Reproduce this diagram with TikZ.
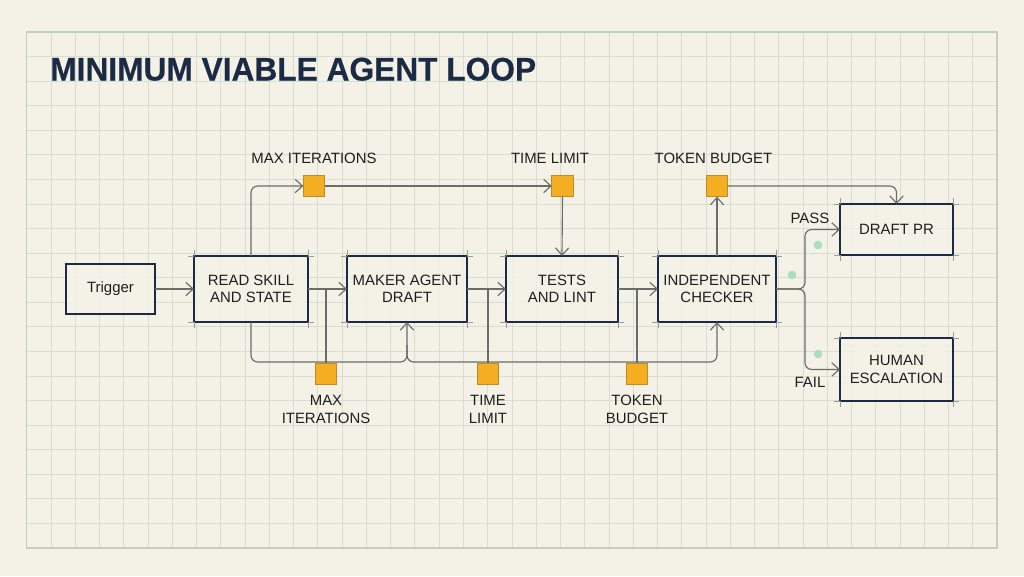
\documentclass[tikz,border=0pt]{standalone}
\usepackage{fontspec}
\setmainfont{Liberation Sans}
\newfontfamily\titlefont{Liberation Sans Bold}[FakeBold=0.5]
\usetikzlibrary{arrows.meta,calc}
\definecolor{cream}{HTML}{F4F2E7}
\definecolor{gridc}{HTML}{D8DDD1}
\definecolor{framec}{HTML}{C3CFC2}
\definecolor{navy}{HTML}{1C2B45}
\definecolor{ink}{HTML}{1E1E1E}
\definecolor{wire}{HTML}{6B6B6B}
\definecolor{org}{HTML}{F3AE22}
\definecolor{orgdark}{HTML}{C08A25}
\definecolor{mint}{HTML}{A9DEC3}
\definecolor{tickc}{HTML}{9A9A9A}
\newcommand\labfont{\fontsize{11.2}{13}\selectfont}
\tikzset{
  box/.style={draw=navy, line width=1.5pt, fill=cream, fill opacity=0.85, text opacity=1,
    align=center, font=\labfont, text=ink, inner sep=0pt, outer sep=0pt},
  gate/.style={draw=orgdark, line width=0.6pt, fill=org, minimum size=16pt, inner sep=0pt, outer sep=0pt},
  conn/.style={draw=wire, line width=0.85pt, rounded corners=5pt},
  arr/.style={conn, -{Straight Barb[length=5.5pt,width=10pt,line width=0.85pt]}},
  lbl/.style={font=\fontsize{11.2}{13.5}\selectfont, text=ink, align=center, inner sep=0pt},
  tickline/.style={draw=tickc, line width=0.5pt},
  dot/.style={circle, fill=mint, minimum size=6.5pt, inner sep=0pt, draw=none}
}
\begin{document}
\begin{tikzpicture}[x=0.75pt,y=-0.75pt]
\useasboundingbox (0,0) rectangle (1024,576);
\fill[cream] (0,0) rectangle (1024,576);
% grid
\foreach \i in {0,...,40} \draw[gridc, line width=0.6pt] ({26.7+24.26*\i},32) -- ({26.7+24.26*\i},548);
\foreach \j in {0,...,21} \draw[gridc, line width=0.6pt] (26.7,{32+24.57*\j}) -- (997,{32+24.57*\j});
\draw[framec, line width=0.9pt] (26.7,32) rectangle (997,548);
% title
\node[anchor=base west, inner sep=0pt, text=navy, font=\fontsize{24.5}{28}\selectfont\titlefont] (title) at (50,80.5) {\scalebox{0.97}[1]{MINIMUM VIABLE AGENT LOOP}};
% boxes
\node[box, minimum width=66.75pt, minimum height=37.5pt] (trig) at (110.5,289) {Trigger};
\node[box, minimum width=85.5pt, minimum height=49.5pt] (read) at (251,289) {READ SKILL\\AND STATE};
\node[box, minimum width=90pt, minimum height=49.5pt] (maker) at (407,289) {MAKER AGENT\\DRAFT};
\node[box, minimum width=84pt, minimum height=49.5pt] (tests) at (562,289) {TESTS\\AND LINT};
\node[box, minimum width=88.5pt, minimum height=49.5pt] (check) at (717,289) {INDEPENDENT\\CHECKER};
\node[box, minimum width=84.75pt, minimum height=38.25pt] (draft) at (896.5,229.5) {DRAFT PR};
\node[box, minimum width=84.75pt, minimum height=47.25pt] (human) at (896.5,369.5) {HUMAN\\ESCALATION};
% corner extensions
\foreach \n in {read,maker,tests,check,draft,human} {
  \draw[tickline] (\n.north west) -- ++(-6,0) (\n.north west) -- ++(0,-6);
  \draw[tickline] (\n.north east) -- ++(6,0) (\n.north east) -- ++(0,-6);
  \draw[tickline] (\n.south west) -- ++(-6,0) (\n.south west) -- ++(0,6);
  \draw[tickline] (\n.south east) -- ++(6,0) (\n.south east) -- ++(0,6);
}
% gates
\node[gate] (gM1) at (314,186) {};
\node[gate] (gT1) at (562.5,186) {};
\node[gate] (gK1) at (717,186) {};
\node[gate] (gM2) at (326,374) {};
\node[gate] (gT2) at (488,374) {};
\node[gate] (gK2) at (637,374) {};
% labels
\node[lbl] (lM1) at (314,158) {MAX ITERATIONS};
\node[lbl] (lT1) at (550,158) {TIME LIMIT};
\node[lbl] (lK1) at (713.5,158) {TOKEN BUDGET};
\node[lbl] (lM2) at (326,409) {MAX\\ITERATIONS};
\node[lbl] (lT2) at (488,409) {TIME\\LIMIT};
\node[lbl] (lK2) at (637,409) {TOKEN\\BUDGET};
\node[lbl] (lpass) at (810,218) {PASS};
\node[lbl] (lfail) at (810,382) {FAIL};
% dots
\node[dot] (d1) at (818,245) {};
\node[dot] (d2) at (792,275) {};
\node[dot] (d3) at (818,354) {};
% main flow
\draw[arr] (trig) -- (read);
\draw[arr] (read) -- (maker);
\draw[arr] (maker) -- (tests);
\draw[arr] (tests) -- (check);
% top loop
\draw[arr] (read.north) |- (gM1.west);
\draw[arr] (gM1.east) -- (gT1.west);
\draw[arr] (gT1.south) -- (tests.north);
\draw[arr] (check.north) -- (gK1.south);
\draw[arr] (gK1.east) -| (draft.north);
% bottom bus
\coordinate (b1) at (407,362);
\coordinate (b0) at (407,345);
\coordinate (b2) at (717,362);
\draw[arr] (read.south) |- (b1) -- (maker.south);
\draw[arr] (b0) |- (b2) -- (check.south);
\draw[conn] (gM2.north |- read.east) -- (gM2.north);
\draw[conn] (gT2.north |- maker.east) -- (gT2.north);
\draw[conn] (gK2.north |- tests.east) -- (gK2.north);
% split
\coordinate (sp) at (805,289);
\draw[arr] (check.east) -- (sp) |- (draft.west);
\draw[arr] (check.east) -- (sp) |- (human.west);
\end{tikzpicture}
\end{document}
